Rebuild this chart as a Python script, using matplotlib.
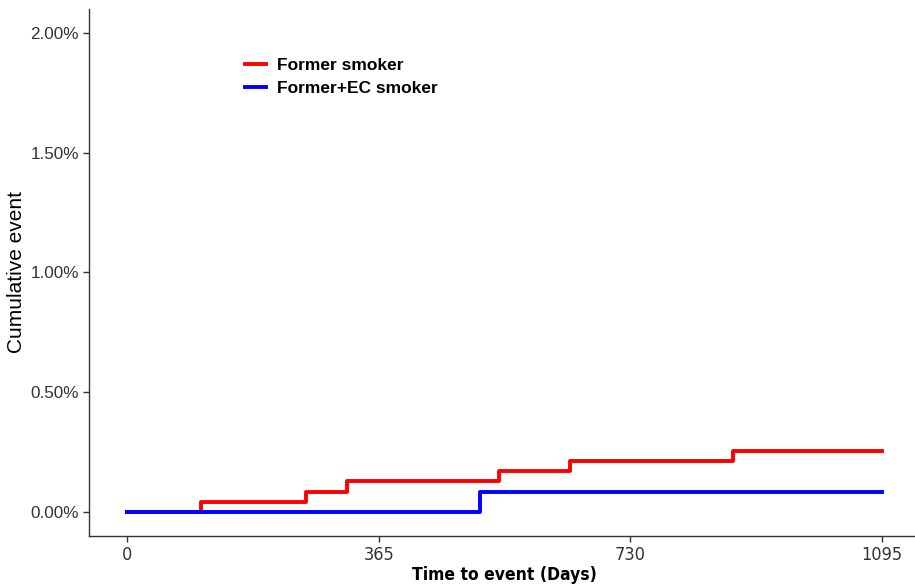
import matplotlib
matplotlib.use('Agg')
import matplotlib.pyplot as plt
from matplotlib.ticker import FuncFormatter

# step times (days) and cumulative event (%)
former_days = [0, 107, 259, 319, 540, 642, 879, 1095]
former_pct = [0.0, 0.0425, 0.085, 0.1275, 0.170, 0.2125, 0.255, 0.255]

ec_days = [0, 512, 1095]
ec_pct = [0.0, 0.085, 0.085]

x_ticks = [0, 365, 730, 1095]
y_ticks = [0.0, 0.5, 1.0, 1.5, 2.0]

plt.rcParams['font.family'] = ['Liberation Sans', 'DejaVu Sans']

fig = plt.figure(figsize=(9.15, 5.87), dpi=100)
ax = fig.add_axes([0.0976, 0.0869, 0.9076, 0.8978])

ax.step(former_days, former_pct, where='post', color='#FF0000', lw=2.8, label='Former smoker')
ax.step(ec_days, ec_pct, where='post', color='#0000FF', lw=2.8, label='Former+EC smoker')

ax.set_xlim(-54.75, 1149.75)
ax.set_ylim(-0.1, 2.1)
ax.set_xticks(x_ticks)
ax.set_yticks(y_ticks)
ax.yaxis.set_major_formatter(FuncFormatter(lambda v, p: f'{v:.2f}%'))

for s in ['top', 'right']:
    ax.spines[s].set_visible(False)
for s in ['left', 'bottom']:
    ax.spines[s].set_linewidth(1.0)
    ax.spines[s].set_color('#333333')

ax.tick_params(axis='both', length=4, width=1, color='#333333', labelcolor='#333333')
ax.tick_params(axis='y', labelsize=12.3)
for lab in ax.get_xticklabels():
    lab.set_family('DejaVu Sans')
    lab.set_stretch('condensed')
    lab.set_fontsize(13)

ax.set_ylabel('Cumulative event', fontsize=15, labelpad=3)
ax.set_xlabel('Time to event (Days)', fontsize=12.5, fontweight='bold',
              family='DejaVu Sans', fontstretch='condensed', labelpad=1)

leg = ax.legend(loc='upper left', bbox_to_anchor=(0.1875, 0.907), frameon=False,
                borderpad=0, borderaxespad=0, handlelength=1.2, handletextpad=0.65,
                labelspacing=0.42, prop={'weight': 'bold', 'size': 12.5})

fig.savefig('out.png', dpi=100)
